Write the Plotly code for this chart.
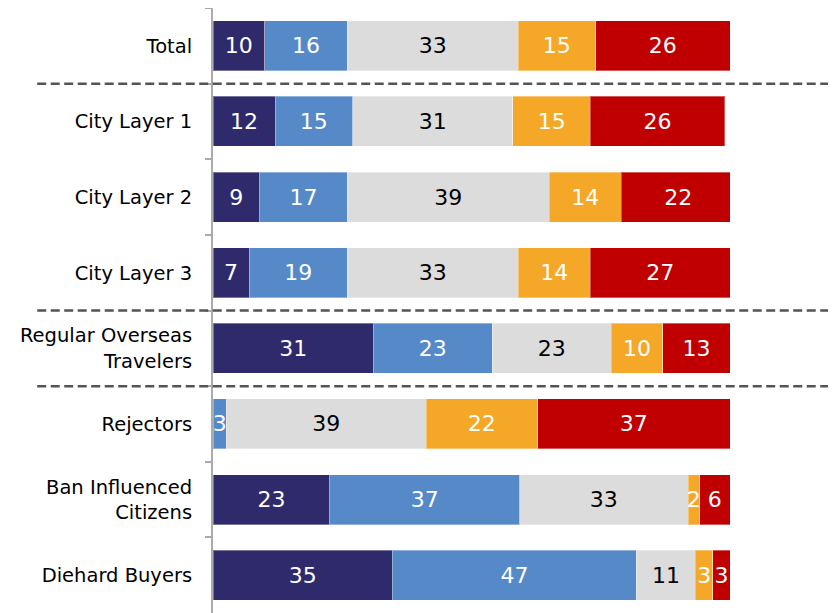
import plotly.graph_objects as go

categories = ["Total", "City Layer 1", "City Layer 2", "City Layer 3",
              "Regular Overseas<br>Travelers", "Rejectors",
              "Ban Influenced<br>Citizens", "Diehard Buyers"]

# five answer groups, left to right
seg1 = [10, 12, 9, 7, 31, 0, 22.6, 34.7]
seg2 = [16, 15, 17, 19, 23, 2.6, 36.7, 47.2]
seg3 = [33, 31, 39, 33, 23, 38.6, 32.6, 11.4]
seg4 = [15, 15, 14, 14, 10, 21.6, 2.2, 3.4]
seg5 = [26, 26, 22, 27, 13, 37.2, 5.9, 3.3]

colors = ["#2E2A6B", "#5689C8", "#DCDCDC", "#F5A827", "#C00000"]
text_colors = ["white", "white", "black", "white", "white"]

FONT = "DejaVu Sans"


def lbl(v):
    return "" if v == 0 else str(int(v + 0.5))


fig = go.Figure()
for vals, col, tcol in zip([seg1, seg2, seg3, seg4, seg5], colors, text_colors):
    fig.add_trace(go.Bar(
        y=categories, x=vals, orientation="h",
        marker=dict(color=col, line=dict(color="rgba(255,255,255,0.35)", width=1)),
        text=[lbl(v) for v in vals], textposition="inside",
        insidetextanchor="middle", constraintext="none",
        textfont=dict(color=tcol, size=22, family=FONT),
        hoverinfo="x+y", showlegend=False,
    ))

# dashed separators between groups
for yb in [0.5, 3.5, 4.5]:
    fig.add_shape(type="line", xref="paper", yref="y",
                  x0=-0.34, x1=1.21, y0=yb, y1=yb,
                  line=dict(color="#545454", width=2.5, dash="9px,4.5px"))

# page body has an 8px margin, so the figure is sized to fit what's left
fig.update_layout(
    barmode="stack", bargap=0.34,
    width=828, height=605,
    margin=dict(l=205, r=106, t=0, b=0),
    plot_bgcolor="white", paper_bgcolor="white",
    font=dict(family=FONT, size=19.5, color="black"),
    xaxis=dict(range=[0, 100], visible=False, fixedrange=True),
    yaxis=dict(autorange="reversed", showline=True, linecolor="#ABABAB",
               linewidth=2, ticks="outside", tickson="boundaries",
               ticklen=6, tickwidth=2, tickcolor="#ABABAB",
               ticklabelstandoff=15, showgrid=False, automargin=False,
               tickfont=dict(size=19.5, family=FONT, color="black")),
)

fig.write_html("out.html")
